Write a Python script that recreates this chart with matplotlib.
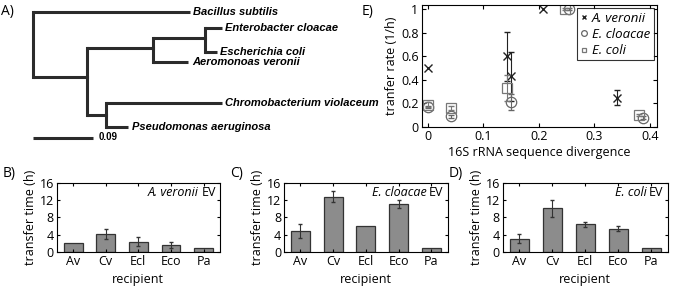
import numpy as np
import matplotlib.pyplot as plt

plt.rcParams['font.family'] = ['Open Sans', 'DejaVu Sans']
plt.rcParams['xtick.direction'] = 'in'
plt.rcParams['ytick.direction'] = 'in'

# ---- data ----
# tree: node -> (parent, distance from root)
tree_nodes = {
    'root': (None, 0.0),
    'n1': ('root', 0.080),
    'n_up': ('n1', 0.178),
    'n_ee': ('n_up', 0.255),
    'n_low': ('n1', 0.109),
    'Bacillus subtilis': ('root', 0.233),
    'Enterobacter cloacae': ('n_ee', 0.280),
    'Escherichia coli': ('n_ee', 0.273),
    'Aeromonoas veronii': ('n_up', 0.231),
    'Chromobacterium violaceum': ('n_low', 0.280),
    'Pseudomonas aeruginosa': ('n_low', 0.142),
}
tree_leaves = ['Bacillus subtilis', 'Enterobacter cloacae', 'Escherichia coli',
               'Aeromonoas veronii', 'Chromobacterium violaceum', 'Pseudomonas aeruginosa']
scale_bar = 0.09

recipients = ['Av', 'Cv', 'Ecl', 'Eco', 'Pa']
av_time = [2.0, 4.1, 2.4, 1.7, 1.0]
av_err = [0, 1.1, 1.1, 0.7, 0]
ecl_time = [4.8, 12.8, 6.1, 11.1, 1.0]
ecl_err = [1.6, 1.3, 0, 1.0, 0]
eco_time = [3.1, 10.1, 6.4, 5.4, 1.0]
eco_err = [1.0, 2.0, 0.6, 0.6, 0]

av_div = [0, 0.142, 0.150, 0.208, 0.341]
av_rate = [0.50, 0.60, 0.43, 1.00, 0.25]
av_rate_err = [0, 0.21, 0.21, 0, 0.06]
ecl_div = [0, 0.043, 0.150, 0.255, 0.388]
ecl_rate = [0.17, 0.09, 0.21, 1.00, 0.08]
ecl_rate_err = [0.01, 0.01, 0.07, 0.01, 0.01]
eco_div = [0, 0.043, 0.142, 0.247, 0.381]
eco_rate = [0.19, 0.16, 0.33, 1.00, 0.10]
eco_rate_err = [0.02, 0.02, 0.11, 0.01, 0.01]

# layout (pixel rows of the tree drawing)
tree_rows = {
    'Bacillus subtilis': 12.3, 'Enterobacter cloacae': 28.3, 'Escherichia coli': 51.7,
    'Aeromonoas veronii': 61.7, 'Chromobacterium violaceum': 103.3,
    'Pseudomonas aeruginosa': 126.7,
    'root': 12.3, 'n1': 76.7, 'n_up': 48.3, 'n_ee': 38.3, 'n_low': 115.0,
}

W, H = 675, 288
fig = plt.figure(figsize=(W / 100, H / 100), dpi=100)


def px_axes(left, top, right, bottom):
    return fig.add_axes([left / W, 1 - bottom / H, (right - left) / W, (bottom - top) / H])


# ---- A) tree ----
ax = px_axes(0, 0, 340, 150)
ax.set_xlim(-0.0485, 0.4557)
ax.set_ylim(150, 0)
ax.axis('off')
lc = '#2b2b2b'
for name, (parent, d) in tree_nodes.items():
    if parent is None:
        continue
    pd = tree_nodes[parent][1]
    y = tree_rows[name]
    ax.plot([pd, d], [y, y], color=lc, lw=2.2, solid_capstyle='butt')
    ax.plot([pd, pd], [tree_rows[parent], y], color=lc, lw=2.2, solid_capstyle='projecting')
for leaf in tree_leaves:
    ax.annotate(leaf, (tree_nodes[leaf][1], tree_rows[leaf]), xytext=(2.5, 0),
                textcoords='offset points', ha='left', va='center',
                fontsize=8, fontweight='bold', style='italic',
                family=['Liberation Sans', 'DejaVu Sans'])
ax.plot([0, scale_bar], [138, 138], color=lc, lw=2.2, solid_capstyle='butt')
ax.annotate(f'{scale_bar:.2f}', (scale_bar, 138), xytext=(4, 1), textcoords='offset points',
            ha='left', va='center', fontsize=7, fontweight='bold',
            family=['Liberation Sans', 'DejaVu Sans'])

# ---- E) scatter ----
ax = px_axes(422, 5, 657, 127)
series = [
    (av_div, av_rate, av_rate_err, 'x', '#222222', 5.5, 'A. veronii'),
    (ecl_div, ecl_rate, ecl_rate_err, 'o', '#666666', 7.5, 'E. cloacae'),
    (eco_div, eco_rate, eco_rate_err, 's', '#777777', 6.5, 'E. coli'),
]
handles = []
for xs, ys, es, mk, col, ms, lab in series:
    xs, ys, es = np.array(xs), np.array(ys), np.array(es)
    m = es > 0
    ax.errorbar(xs[m], ys[m], yerr=es[m], fmt='none', ecolor=col, elinewidth=0.8, capsize=2)
    h, = ax.plot(xs, ys, mk, color=col, mfc='none', ms=ms, mew=1 if mk == 'x' else 0.9,
                 label=lab)
    handles.append(h)
ax.set_xlim(-0.01, 0.4125)
ax.set_ylim(0, 1.035)
ax.set_xticks([0, 0.1, 0.2, 0.3, 0.4])
ax.set_xticklabels(['0', '0.1', '0.2', '0.3', '0.4'])
ax.set_yticks([0, 0.2, 0.4, 0.6, 0.8, 1.0])
ax.set_yticklabels(['0', '0.2', '0.4', '0.6', '0.8', '1'])
ax.tick_params(labelsize=9, length=3, top=True, right=True, pad=2.5)
ax.set_xlabel('16S rRNA sequence divergence', fontsize=9, labelpad=1.5)
ax.set_ylabel('tranfer rate (1/h)', fontsize=9, labelpad=2)
leg = ax.legend(handles=handles, loc='upper right', prop={'style': 'italic', 'size': 9.5},
                frameon=True, fancybox=False, edgecolor='black', markerscale=0.55,
                handlelength=0.6, handletextpad=0.3, borderpad=0.25, labelspacing=0.25,
                borderaxespad=0.25)
leg.get_frame().set_linewidth(0.8)

# ---- B-D) bars ----
bar_panels = [
    ((56.7, 220), av_time, av_err, 'A. veronii', 'B)'),
    ((284, 447.7), ecl_time, ecl_err, 'E. cloacae', 'C)'),
    ((502.7, 667.7), eco_time, eco_err, 'E. coli', 'D)'),
]
x = np.arange(1, len(recipients) + 1)
for (l, r), vals, errs, donor, tag in bar_panels:
    ax = px_axes(l, 182.7, r, 252)
    ax.bar(x, vals, width=0.58, color='#8c8c8c', edgecolor='#333333', linewidth=0.9)
    errs = np.array(errs, dtype=float)
    m = errs > 0
    ax.errorbar(x[m], np.array(vals)[m], yerr=errs[m], fmt='none', ecolor='#333333',
                elinewidth=0.8, capsize=1.5)
    ax.set_xlim(0.5, 5.5)
    ax.set_ylim(0, 16)
    ax.set_yticks([0, 4, 8, 12, 16])
    ax.set_xticks(x)
    ax.set_xticklabels(recipients)
    ax.tick_params(labelsize=9, length=2.5, top=True, right=True, pad=2)
    ax.set_ylabel('transfer time (h)', fontsize=9, labelpad=2)
    ax.set_xlabel('recipient', fontsize=9, labelpad=4)
    ev = ax.text(0.975, 0.95, 'EV', transform=ax.transAxes, ha='right', va='top', fontsize=9)
    ax.annotate(donor, xy=(0, 0), xycoords=ev, xytext=(-2, 0), textcoords='offset points',
                ha='right', va='bottom', fontsize=9, style='italic')
    fig.text((l - 54) / W, 1 - 174 / H, tag, fontsize=10, ha='left', va='center')

fig.text(1 / W, 1 - 11 / H, 'A)', fontsize=10, ha='left', va='center')
fig.text(362 / W, 1 - 11 / H, 'E)', fontsize=10, ha='left', va='center')

fig.savefig('out.png', dpi=100)
